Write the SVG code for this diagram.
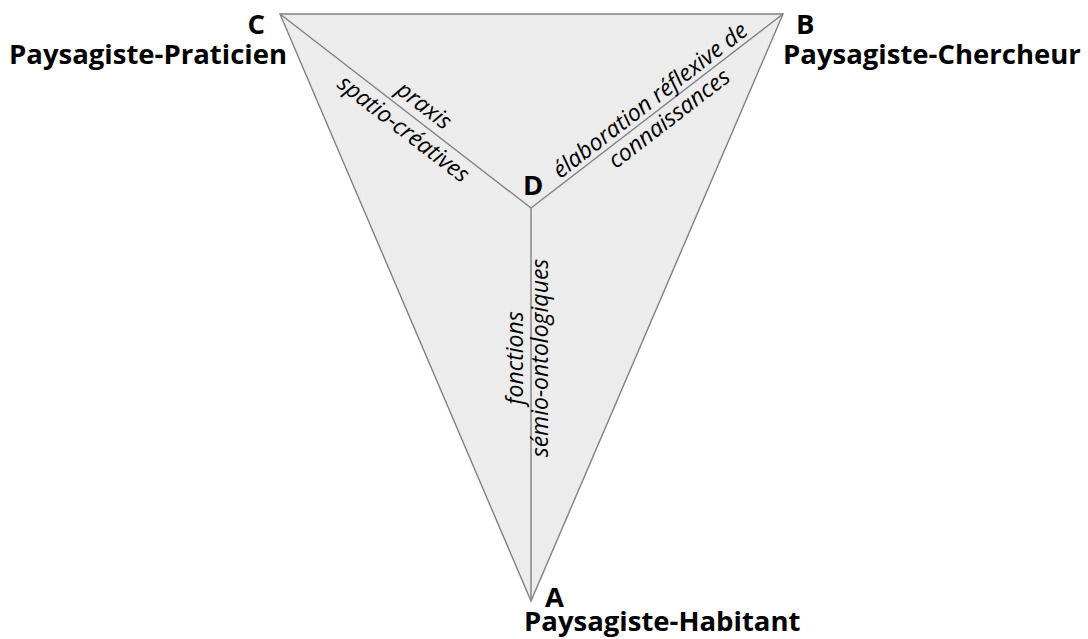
<svg xmlns="http://www.w3.org/2000/svg" width="1088" height="639" viewBox="0 0 1088 639">
<style>
.edge{stroke:#808080;stroke-width:1.4;fill:none}
.tri{fill:#ececec;stroke:#808080;stroke-width:1.4;stroke-linejoin:miter}
.lbl{font-family:"Open Sans","Liberation Sans",sans-serif;font-weight:bold;font-size:27.5px;fill:#000}
.it{font-family:"Open Sans","Liberation Sans",sans-serif;font-style:italic;font-size:23px;fill:#000;text-anchor:middle}
</style>
<rect width="1088" height="639" fill="#ffffff"/>
<g id="triangle">
<polygon class="tri" points="280,14 783,14 531,601"/>
</g>
<g id="connectors">
<line class="edge" x1="531" y1="208" x2="280" y2="14"/>
<line class="edge" x1="531" y1="208" x2="783" y2="14"/>
<line class="edge" x1="531" y1="208" x2="531" y2="601"/>
</g>
<g id="nodeC">
<text class="lbl" x="265" y="34" text-anchor="end">C</text>
<text class="lbl" x="287" y="64" text-anchor="end">Paysagiste-Praticien</text>
</g>
<g id="nodeB">
<text class="lbl" x="796" y="34">B</text>
<text class="lbl" x="783" y="64">Paysagiste-Chercheur</text>
</g>
<g id="nodeA">
<text class="lbl" x="545" y="607">A</text>
<text class="lbl" x="524" y="631">Paysagiste-Habitant</text>
</g>
<g id="nodeD">
<text class="lbl" x="523" y="195">D</text>
</g>
<g id="edgeLabels">
<g transform="translate(280,14) rotate(37.7)">
<text class="it" x="170" y="-8">praxis</text>
<text class="it" x="168" y="23">spatio-créatives</text>
</g>
<g transform="translate(531,208) rotate(-37.6)">
<text class="it" x="160" y="-5">élaboration réflexive de</text>
<text class="it" x="164" y="21">connaissances</text>
</g>
<g transform="translate(531,358) rotate(-90)">
<text class="it" x="0" y="-8">fonctions</text>
<text class="it" x="0" y="17">sémio-ontologiques</text>
</g>
</g>
</svg>
